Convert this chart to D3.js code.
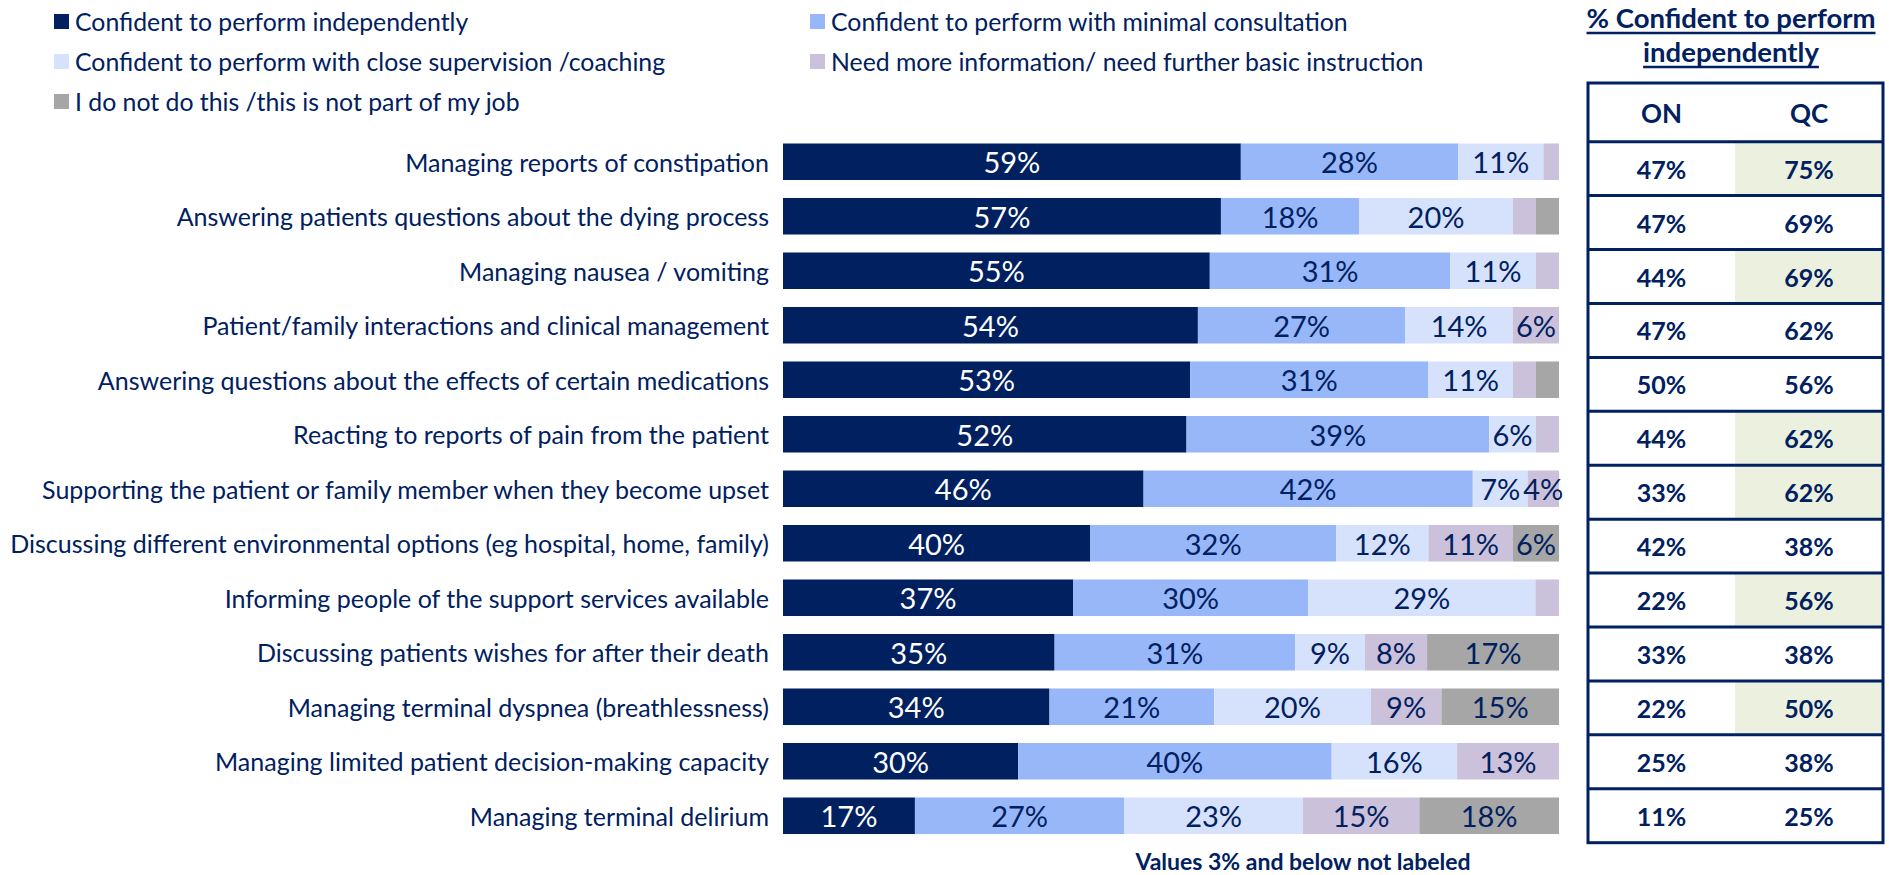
<!DOCTYPE html>
<html>
<head>
<meta charset="utf-8">
<script src="https://cdn.jsdelivr.net/npm/d3@7"></script>
<style>body{margin:0;background:#fff}</style>
</head>
<body>
<script>
// categories, top to bottom
var categories = [
  "Managing reports of constipation",
  "Answering patients questions about the dying process",
  "Managing nausea / vomiting",
  "Patient/family interactions and clinical management",
  "Answering questions about the effects of certain medications",
  "Reacting to reports of pain from the patient",
  "Supporting the patient or family member when they become upset",
  "Discussing different environmental options (eg hospital, home, family)",
  "Informing people of the support services available",
  "Discussing patients wishes for after their death",
  "Managing terminal dyspnea (breathlessness)",
  "Managing limited patient decision-making capacity",
  "Managing terminal delirium"
];

var seriesNames = [
  "Confident to perform independently",
  "Confident to perform with minimal consultation",
  "Confident to perform with close supervision /coaching",
  "Need more information/ need further basic instruction",
  "I do not do this /this is not part of my job"
];

var independent = [59, 57, 55, 54, 53, 52, 46, 40, 37, 35, 34, 30, 17];
var minimal     = [28, 18, 31, 27, 31, 39, 42, 32, 30, 31, 21, 40, 27];
var supervision = [11, 20, 11, 14, 11,  6,  7, 12, 29,  9, 20, 16, 23];
var moreInfo    = [ 2,  3,  3,  6,  3,  3,  4, 11,  3,  8,  9, 13, 15];
var notJob      = [ 0,  3,  0,  0,  3,  0,  0,  6,  0, 17, 15,  0, 18];

// right-hand table: % confident to perform independently
var onValues  = [47, 47, 44, 47, 50, 44, 33, 42, 22, 33, 22, 25, 11];
var qcValues  = [75, 69, 69, 62, 56, 62, 62, 38, 56, 38, 50, 38, 25];
var qcShaded  = [ 1,  0,  1,  0,  0,  1,  1,  0,  1,  0,  1,  0,  0];

var colors = ["#002060", "#98B7F8", "#D6E2FB", "#CCC1DA", "#A6A6A6"];
var navy = "#002060";

var keys = ["independent", "minimal", "supervision", "moreInfo", "notJob"];
var rows = categories.map(function(c, i) {
  return {cat: c, independent: independent[i], minimal: minimal[i],
          supervision: supervision[i], moreInfo: moreInfo[i], notJob: notJob[i]};
});

var stacked = d3.stack().keys(keys).offset(d3.stackOffsetExpand)(rows);

var svg = d3.select("body").append("svg")
  .attr("width", 1889).attr("height", 875)
  .style("font-family", "Lato, 'Open Sans', sans-serif");

var x = d3.scaleLinear().domain([0, 1]).range([783, 1559]);
var y = d3.scaleBand().domain(categories).range([134.5, 843])
  .paddingInner(0.33).paddingOuter(0.165);
var color = d3.scaleOrdinal().domain(keys).range(colors);

// bars
var layers = svg.selectAll("g.layer")
  .data(stacked)
  .enter().append("g")
    .attr("class", "layer")
    .attr("fill", function(d) { return color(d.key); });

layers.selectAll("rect")
  .data(function(d) { return d; })
  .enter().append("rect")
    .attr("x", function(d) { return x(d[0]); })
    .attr("width", function(d) { return x(d[1]) - x(d[0]); })
    .attr("y", function(d) { return y(d.data.cat); })
    .attr("height", y.bandwidth());

// segment labels (values 3% and below not labeled)
layers.selectAll("text")
  .data(function(layer) {
    return layer.map(function(d) { return {seg: d, key: layer.key, v: d.data[layer.key]}; })
      .filter(function(d) { return d.v > 3; });
  })
  .enter().append("text")
    .attr("x", function(d) { return (x(d.seg[0]) + x(d.seg[1])) / 2; })
    .attr("y", function(d) { return y(d.seg.data.cat) + y.bandwidth() / 2; })
    .attr("text-anchor", "middle")
    .attr("dominant-baseline", "central")
    .attr("font-size", 29)
    .attr("fill", function(d) { return d.key === "independent" ? "#fff" : navy; })
    .text(function(d) { return d.v + "%"; });

// category labels
svg.append("g").selectAll("text")
  .data(categories)
  .enter().append("text")
    .attr("x", 769)
    .attr("y", function(d) { return y(d) + y.bandwidth() / 2; })
    .attr("text-anchor", "end")
    .attr("dominant-baseline", "central")
    .attr("font-size", 25)
    .attr("fill", navy)
    .text(function(d) { return d; });

// legend
var legend = svg.append("g").selectAll("g")
  .data(seriesNames)
  .enter().append("g")
    .attr("transform", function(d, i) {
      return "translate(" + (i % 2 ? 810 : 54) + "," + (21.5 + Math.floor(i / 2) * 40) + ")";
    });
legend.append("rect")
  .attr("x", 0).attr("y", -7.5).attr("width", 15).attr("height", 15)
  .attr("fill", function(d, i) { return colors[i]; });
legend.append("text")
  .attr("x", 21)
  .attr("dominant-baseline", "central")
  .attr("font-size", 24.8)
  .attr("fill", navy)
  .text(function(d) { return d; });

// table
var tableLeft = 1588, tableRight = 1883, tableMid = 1735, tableTop = 83;
var ty = d3.scaleBand().domain(categories).range([141.7, 842.7]);

svg.append("g").selectAll("rect")
  .data(categories.filter(function(c, i) { return qcShaded[i]; }))
  .enter().append("rect")
    .attr("x", tableMid)
    .attr("width", tableRight - tableMid)
    .attr("y", function(d) { return ty(d); })
    .attr("height", ty.bandwidth())
    .attr("fill", "#EBF1DE");

svg.append("g").selectAll("line")
  .data(categories)
  .enter().append("line")
    .attr("x1", tableLeft).attr("x2", tableRight)
    .attr("y1", function(d) { return ty(d); })
    .attr("y2", function(d) { return ty(d); })
    .attr("stroke", navy).attr("stroke-width", 3);

svg.append("rect")
  .attr("x", tableLeft).attr("y", tableTop)
  .attr("width", tableRight - tableLeft).attr("height", 842.7 - tableTop)
  .attr("fill", "none").attr("stroke", navy).attr("stroke-width", 3);

var colX = [(tableLeft + tableMid) / 2, (tableMid + tableRight) / 2];

svg.selectAll("text.hdr")
  .data(["ON", "QC"])
  .enter().append("text")
    .attr("class", "hdr")
    .attr("x", function(d, i) { return colX[i]; })
    .attr("y", 113)
    .attr("text-anchor", "middle")
    .attr("dominant-baseline", "central")
    .attr("font-size", 26).attr("font-weight", "bold")
    .attr("fill", navy)
    .text(function(d) { return d; });

[onValues, qcValues].forEach(function(vals, j) {
  svg.append("g").selectAll("text")
    .data(vals)
    .enter().append("text")
      .attr("x", colX[j])
      .attr("y", function(d, i) { return ty(categories[i]) + ty.bandwidth() / 2; })
      .attr("text-anchor", "middle")
      .attr("dominant-baseline", "central")
      .attr("font-size", 25).attr("font-weight", "bold")
      .attr("fill", navy)
      .text(function(d) { return d + "%"; });
});

// table title, underlined
[["% Confident to perform", 28], ["independently", 62]].forEach(function(t) {
  var txt = svg.append("text")
    .attr("x", 1731).attr("y", t[1])
    .attr("text-anchor", "middle")
    .attr("font-size", 27.5).attr("font-weight", "bold")
    .attr("fill", navy)
    .text(t[0]);
  var w = txt.node().getComputedTextLength();
  svg.append("line")
    .attr("x1", 1731 - w / 2).attr("x2", 1731 + w / 2)
    .attr("y1", t[1] + 5).attr("y2", t[1] + 5)
    .attr("stroke", navy).attr("stroke-width", 2.5);
});

// footnote
svg.append("text")
  .attr("x", 1303).attr("y", 861)
  .attr("text-anchor", "middle")
  .attr("dominant-baseline", "central")
  .attr("font-size", 23).attr("font-weight", "bold")
  .attr("fill", navy)
  .text("Values 3% and below not labeled");
</script>
</body>
</html>
